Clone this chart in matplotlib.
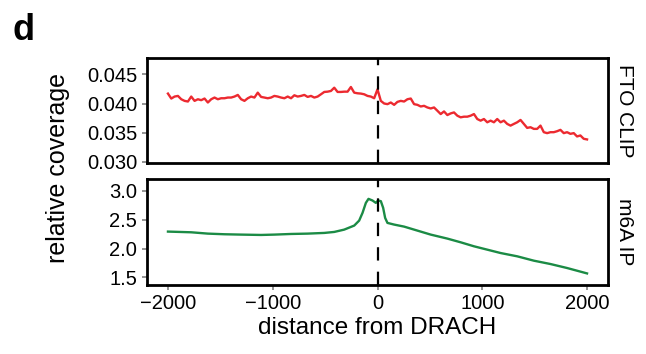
import numpy as np
import matplotlib
matplotlib.use("Agg")
import matplotlib.pyplot as plt

plt.rcParams['font.family'] = ['Liberation Sans', 'DejaVu Sans']

# FTO CLIP coverage (evenly spaced from -2000 to 2000)
clip_y = [
    0.04170, 0.04085, 0.04119, 0.04130, 0.04073, 0.04045, 0.04034, 0.04119,
    0.04045, 0.04073, 0.04057, 0.04085, 0.04017, 0.04073, 0.04102, 0.04073,
    0.04090, 0.04090, 0.04102, 0.04102, 0.04119, 0.04147, 0.04073, 0.04045,
    0.04090, 0.04119, 0.04102, 0.04186, 0.04113, 0.04102, 0.04090, 0.04102,
    0.04130, 0.04119, 0.04102, 0.04090, 0.04119, 0.04090, 0.04141, 0.04119,
    0.04130, 0.04147, 0.04113, 0.04130, 0.04102, 0.04119, 0.04158, 0.04198,
    0.04203, 0.04215, 0.04271, 0.04198, 0.04198, 0.04203, 0.04203, 0.04283,
    0.04186, 0.04175, 0.04170, 0.04158, 0.04130, 0.04119, 0.04090, 0.04243,
    0.04045, 0.04000, 0.03989, 0.04017, 0.03977, 0.04028, 0.04045, 0.04034,
    0.04073, 0.04085, 0.03989, 0.03977, 0.03949, 0.03960, 0.03932, 0.03915,
    0.03932, 0.03876, 0.03819, 0.03864, 0.03802, 0.03830, 0.03847, 0.03791,
    0.03763, 0.03774, 0.03774, 0.03791, 0.03819, 0.03734, 0.03706, 0.03734,
    0.03678, 0.03706, 0.03678, 0.03734, 0.03678, 0.03706, 0.03650, 0.03621,
    0.03650, 0.03678, 0.03718, 0.03650, 0.03582, 0.03593, 0.03565, 0.03565,
    0.03621, 0.03508, 0.03492, 0.03508, 0.03508, 0.03525, 0.03548, 0.03492,
    0.03508, 0.03480, 0.03492, 0.03435, 0.03452, 0.03395, 0.03384,
]
clip_x = np.linspace(-2000, 2000, len(clip_y))

# m6A IP coverage
ip_x = [-2000, -1778, -1619, -1460, -1302, -1111, -984, -826, -667, -508,
        -413, -318, -222, -175, -143, -111, -86, -48, -16, 6, 32, 54, 73,
        95, 159, 254, 381, 508, 667, 794, 921, 1048, 1175, 1334, 1492,
        1651, 1810, 2000]
ip_y = [2.292, 2.280, 2.257, 2.246, 2.240, 2.234, 2.240, 2.251, 2.257, 2.269,
        2.286, 2.326, 2.396, 2.482, 2.615, 2.788, 2.857, 2.829, 2.788, 2.829,
        2.817, 2.702, 2.528, 2.442, 2.413, 2.378, 2.309, 2.240, 2.171, 2.107,
        2.038, 1.980, 1.922, 1.865, 1.790, 1.732, 1.663, 1.570]

x_ticks = [-2000, -1000, 0, 1000, 2000]
clip_ticks = [0.030, 0.035, 0.040, 0.045]
ip_ticks = [1.5, 2.0, 2.5, 3.0]

W, H = 646, 354
fig = plt.figure(figsize=(W / 100, H / 100), dpi=100)

def px_axes(left, top, right, bottom):
    return fig.add_axes([left / W, 1 - bottom / H, (right - left) / W, (bottom - top) / H])

def style(ax):
    for s in ax.spines.values():
        s.set_linewidth(2.0)
        s.set_color('black')
    ax.tick_params(axis='both', colors='#808080', labelcolor='black',
                   labelsize=14.5, length=3.5, width=1.2, pad=3.5)
    ax.axvline(0, color='black', lw=1.6, ls=(0, (6, 5)), zorder=3)
    ax.set_xlim(-2200, 2200)
    ax.set_xticks(x_ticks)

ax1 = px_axes(147, 58, 608, 163)
ax1.plot(clip_x, clip_y, color='#EC2A30', lw=1.7)
style(ax1)
ax1.set_ylim(0.0298, 0.0478)
ax1.set_yticks(clip_ticks)
ax1.set_yticklabels(['%.3f' % t for t in clip_ticks])
ax1.tick_params(axis='x', labelbottom=False, length=0)
ax1.text(1.035, 0.5, 'FTO CLIP', transform=ax1.transAxes, rotation=-90,
         ha='center', va='center', fontsize=15)

ax2 = px_axes(147, 179, 608, 285)
ax2.plot(ip_x, ip_y, color='#1B8B45', lw=1.7)
style(ax2)
ax2.set_ylim(1.37, 3.2)
ax2.set_yticks(ip_ticks)
ax2.set_yticklabels(['%.1f' % t for t in ip_ticks])
ax2.set_xticklabels(['\u22122000', '\u22121000', '0', '1000', '2000'])
ax2.tick_params(axis='x', pad=3)
ax2.text(1.035, 0.5, 'm6A IP', transform=ax2.transAxes, rotation=-90,
         ha='center', va='center', fontsize=15)

fig.text(377.5 / W, 1 - 334 / H, 'distance from DRACH', ha='center', va='baseline', fontsize=17.5)
fig.text(58 / W, 1 - 168 / H, 'relative coverage', ha='center', va='center',
         rotation=90, fontsize=18)
fig.text(12 / W, 1 - 40 / H, 'd', ha='left', va='baseline', fontsize=26, fontweight='bold')

fig.savefig('out.png', dpi=100)
